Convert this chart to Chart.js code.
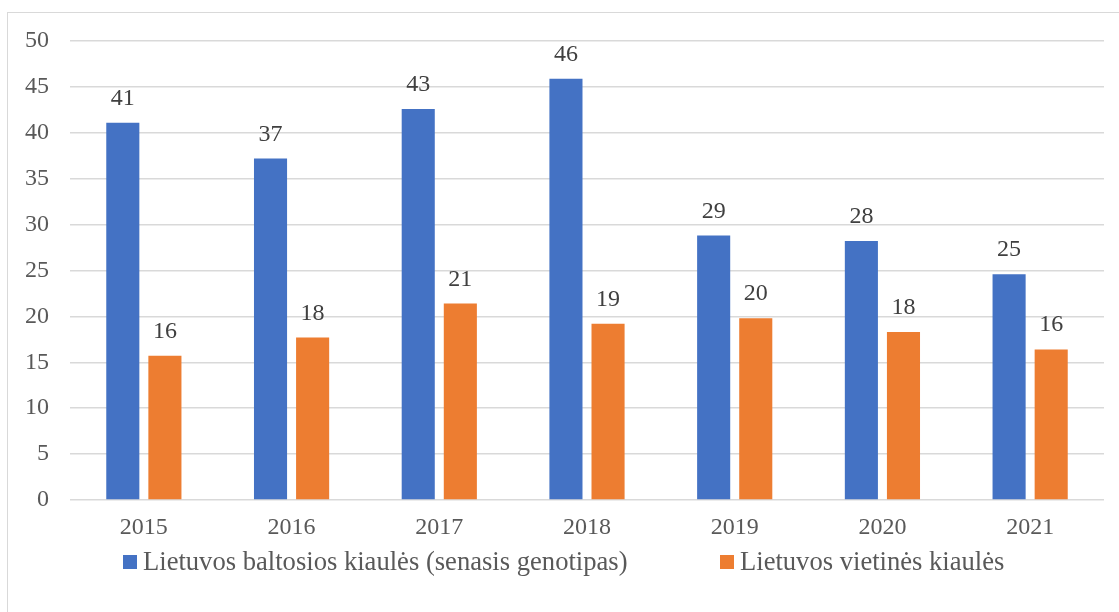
<!DOCTYPE html>
<html>
<head>
<meta charset="utf-8">
<script src="https://cdn.jsdelivr.net/npm/chart.js@4.4.0/dist/chart.umd.min.js"></script>
<style>
  html, body { margin:0; padding:0; background:#fff; overflow:hidden; }
  #wrap { position:relative; width:1119px; height:612px; }
</style>
</head>
<body>
<div id="wrap"><canvas id="chart" width="1119" height="612"></canvas></div>
<script>
const years = ["2015","2016","2017","2018","2019","2020","2021"];
const baltosios = [41.1, 37.2, 42.6, 45.9, 28.8, 28.2, 24.6];
const vietines = [15.7, 17.7, 21.4, 19.2, 19.8, 18.3, 16.4];
const seriesNames = ["Lietuvos baltosios kiaulės (senasis genotipas)", "Lietuvos vietinės kiaulės"];
const seriesColors = ["#4472C4", "#ED7D31"];

const FONT = "'Liberation Serif', 'Times New Roman', serif";

// frame + value labels + legend
const extras = {
  id: "extras",
  beforeDraw(chart) {
    const c = chart.ctx;
    c.save();
    c.strokeStyle = "#d9d9d9";
    c.lineWidth = 1;
    c.strokeRect(7.5, 12.5, 1300, 800);
    c.restore();
  },
  afterDatasetsDraw(chart) {
    const c = chart.ctx;
    c.save();
    c.font = "24px " + FONT;
    c.fillStyle = "#404040";
    c.textAlign = "center";
    c.textBaseline = "alphabetic";
    chart.data.datasets.forEach((ds, i) => {
      chart.getDatasetMeta(i).data.forEach((bar, j) => {
        c.fillText(Math.round(ds.data[j]), bar.x, bar.y - 18);
      });
    });
    c.restore();
  },
  afterDraw(chart) {
    const c = chart.ctx;
    c.save();
    c.font = "26.6px " + FONT;
    c.textBaseline = "middle";
    const y = 562;
    const boxX = [123, 720];
    seriesNames.forEach((name, i) => {
      c.fillStyle = seriesColors[i];
      c.fillRect(boxX[i], y - 7, 14, 14);
      c.fillStyle = "#595959";
      c.fillText(name, boxX[i] + 20, y + 1);
    });
    c.restore();
  }
};

new Chart(document.getElementById("chart"), {
  type: "bar",
  data: {
    labels: years,
    datasets: [
      { label: seriesNames[0], data: baltosios, backgroundColor: seriesColors[0] },
      { label: seriesNames[1], data: vietines, backgroundColor: seriesColors[1] }
    ]
  },
  options: {
    responsive: false,
    animation: false,
    events: [],
    categoryPercentage: 0.57,
    barPercentage: 0.786,
    layout: { padding: { top: 41, left: 0, right: 15, bottom: 52 } },
    plugins: { legend: { display: false }, tooltip: { enabled: false } },
    scales: {
      x: {
        grid: { display: false },
        border: { display: false },
        ticks: { color: "#595959", font: { family: FONT, size: 24 }, padding: 5 },
        afterFit: s => { s.height = 60; }
      },
      y: {
        min: 0, max: 50,
        grid: { color: "#d9d9d9", lineWidth: 1.5, drawTicks: false },
        border: { display: false },
        ticks: { stepSize: 5, color: "#595959", font: { family: FONT, size: 24 }, padding: 21 },
        afterFit: s => { s.width = 70; }
      }
    }
  },
  plugins: [extras]
});
</script>
</body>
</html>
